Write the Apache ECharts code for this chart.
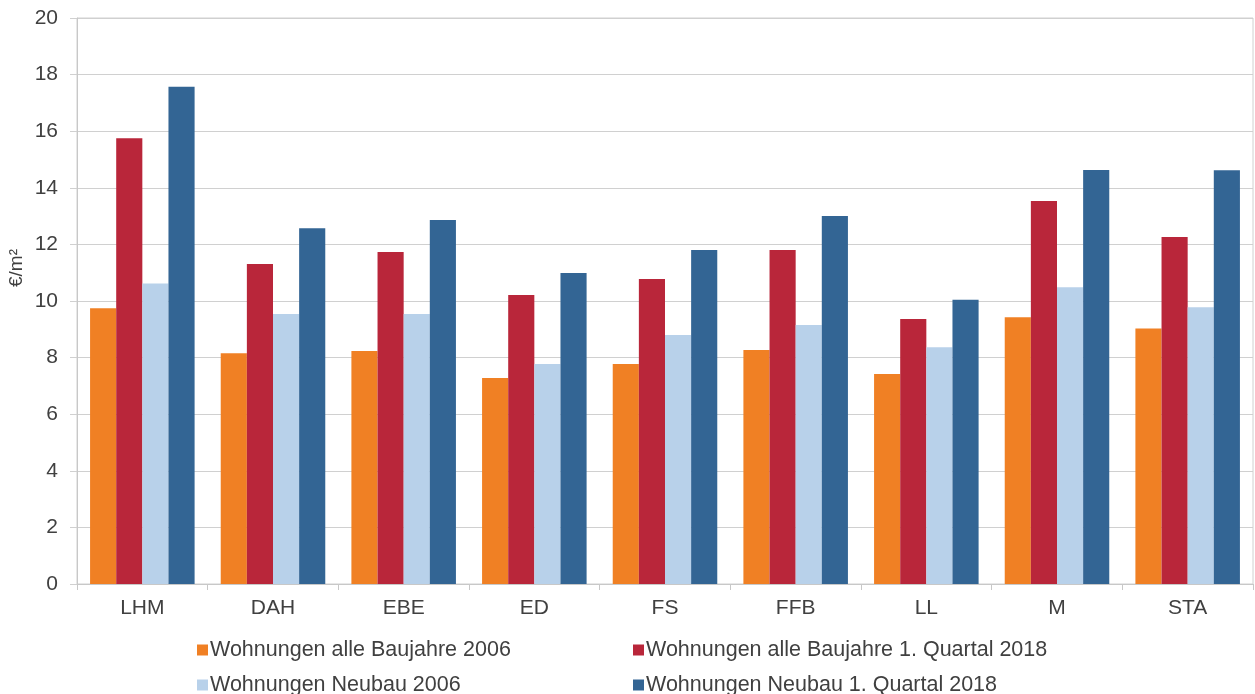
<!DOCTYPE html>
<html><head><meta charset="utf-8">
<script src="https://cdn.jsdelivr.net/npm/echarts@6/dist/echarts.min.js"></script>
<style>html,body{margin:0;padding:0;background:#fff}#c{width:1255px;height:694px}</style>
</head><body><div id="c"></div>
<script>
const categories = ['LHM','DAH','EBE','ED','FS','FFB','LL','M','STA'];
const seriesNames = ['Wohnungen alle Baujahre 2006','Wohnungen alle Baujahre 1. Quartal 2018','Wohnungen Neubau 2006','Wohnungen Neubau 1. Quartal 2018'];
const alle2006 = [9.74, 8.15, 8.23, 7.28, 7.77, 8.27, 7.42, 9.43, 9.03];
const alle2018 = [15.75, 11.31, 11.73, 10.21, 10.78, 11.8, 9.36, 13.53, 12.26];
const neubau2006 = [10.62, 9.54, 9.54, 7.77, 8.8, 9.15, 8.37, 10.49, 9.78];
const neubau2018 = [17.57, 12.57, 12.86, 10.99, 11.8, 13.0, 10.04, 14.63, 14.62];
const colors = ['#F08024','#B9263A','#B8D1EA','#336594'];
const values = [alle2006, alle2018, neubau2006, neubau2018];
const font = 'Liberation Sans, Arial, sans-serif';
const chart = echarts.init(document.getElementById('c'));
const legendPos = [[197,639],[633,639],[197,674],[633,674]];
const legends = seriesNames.map((n,i)=>({
  left:legendPos[i][0], top:legendPos[i][1], padding:0, itemWidth:11, itemHeight:11, icon:'rect',
  data:[n], selectedMode:false,
  textStyle:{fontFamily:font, fontSize:21.5, color:'#404040', padding:[0,0,0,-3]}
}));
chart.setOption({
  animation:false,
  grid:{left:77, right:2, top:18, bottom:110, show:true, borderColor:'#D0D0D0', borderWidth:1,
    outerBoundsMode:'none', containLabel:false},
  legend:legends,
  xAxis:{type:'category', data:categories,
    axisLine:{lineStyle:{color:'#C8C8C8'}},
    axisTick:{show:true, length:6, lineStyle:{color:'#C8C8C8'}},
    axisLabel:{fontFamily:font, fontSize:21, color:'#404040', margin:14}},
  yAxis:{type:'value', min:0, max:20, interval:2,
    name:'€/m²', nameLocation:'middle', nameRotate:90, nameGap:51, nameMoveOverlap:false,
    nameTextStyle:{fontFamily:font, fontSize:19, color:'#404040', padding:[0,0,0,66]},
    axisLine:{show:true, lineStyle:{color:'#C8C8C8'}},
    axisTick:{show:true, length:7, lineStyle:{color:'#D0D0D0'}},
    splitLine:{lineStyle:{color:'#D0D0D0'}},
    axisLabel:{fontFamily:font, fontSize:21, color:'#404040', margin:19}},
  series: values.map((v,i)=>({name:seriesNames[i], type:'bar', data:v,
    itemStyle:{color:colors[i]}, barGap:'0%', barCategoryGap:'20%'}))
});
</script></body></html>
